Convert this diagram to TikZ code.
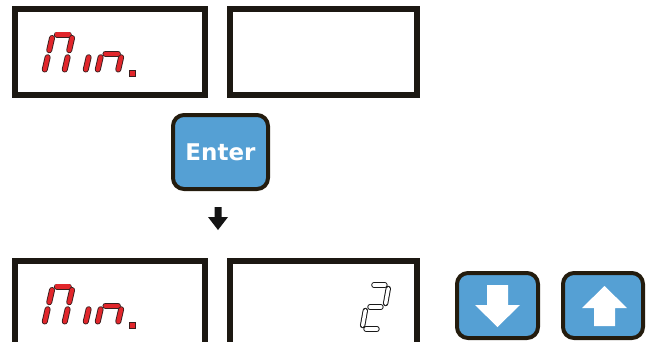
\documentclass[tikz,border=0pt]{standalone}
\usepackage{fontspec}
\newfontfamily\keyfont{DejaVu Sans}
\definecolor{boxc}{HTML}{1C1812}
\definecolor{btnfill}{HTML}{55A0D4}
\definecolor{btnborder}{HTML}{241C0E}
\definecolor{segred}{HTML}{E1262B}
\definecolor{segdark}{HTML}{3A1E1E}
\tikzset{
  disp/.style={rectangle, draw=boxc, line width=6pt, inner sep=0pt, minimum height=85.5pt},
  keybtn/.style={rectangle, draw=btnborder, line width=4pt, fill=btnfill, rounded corners=11pt, inner sep=0pt},
  redseg/.style={draw=segdark, line width=0.9pt, double=segred, double distance=4.2pt, line cap=round},
  whiteseg/.style={draw=black!90, line width=1pt, double=white, double distance=3.4pt, line cap=round},
  keyarrow/.style={fill=white, draw=none},
  flowarrow/.style={fill=black!92, draw=none}
}
% seven-segment helpers (use \dW, \dH, \gh, \gv set in the scope)
\newcommand\segA[1]{\draw[#1] (\gh,-\dH) -- (\dW-\gh,-\dH);}
\newcommand\segB[1]{\draw[#1] (\dW,-\dH+\gv) -- (\dW,-\dH/2-\gv);}
\newcommand\segC[1]{\draw[#1] (\dW,-\dH/2+\gv) -- (\dW,-\gv);}
\newcommand\segD[1]{\draw[#1] (\gh,0) -- (\dW-\gh,0);}
\newcommand\segE[1]{\draw[#1] (0,-\dH/2+\gv) -- (0,-\gv);}
\newcommand\segF[1]{\draw[#1] (0,-\dH+\gv) -- (0,-\dH/2-\gv);}
\newcommand\segG[1]{\draw[#1] (\gh,-\dH/2) -- (\dW-\gh,-\dH/2);}
\newcommand\minword[1]{% #1 = baseline y
  \begin{scope}[shift={(44,#1)}, xslant=0.23]
    \def\dW{20}\def\dH{38.5}\def\gh{4}\def\gv{3.5}
    \segA{redseg}\segB{redseg}\segC{redseg}\segE{redseg}\segF{redseg}
  \end{scope}
  \begin{scope}[shift={(85,#1)}, xslant=0.23]
    \def\dW{20}\def\dH{38.5}\def\gh{4}\def\gv{3.5}
    \segE{redseg}
  \end{scope}
  \begin{scope}[shift={(97,#1)}, xslant=0.23]
    \def\dW{20.5}\def\dH{38.5}\def\gh{4}\def\gv{3.5}
    \segC{redseg}\segE{redseg}\segG{redseg}
  \end{scope}
  \draw[draw=segdark, line width=0.9pt, fill=segred] (129,#1-3) rectangle (135,#1+3);
}
\begin{document}
\begin{tikzpicture}[x=1pt, y=-1pt]
\useasboundingbox (0,0) rectangle (654,341);
% displays
\node[disp, minimum width=190pt] (d1) at (110,51.75) {};
\node[disp, minimum width=187.5pt] (d2) at (323.25,51.75) {};
\node[disp, minimum width=190pt] (d3) at (110,303.75) {};
\node[disp, minimum width=187.5pt] (d4) at (323.25,303.75) {};
\minword{73}
\minword{325}
% digit 2
\begin{scope}[shift={(362,329)}, xslant=0.18]
  \def\dW{19}\def\dH{44}\def\gh{4}\def\gv{3.5}
  \segA{whiteseg}\segB{whiteseg}\segG{whiteseg}\segE{whiteseg}\segD{whiteseg}
\end{scope}
% keys
\node[keybtn, minimum width=95pt, minimum height=74pt, text=white,
      font=\keyfont\bfseries\fontsize{23}{23}\selectfont] (enter) at (220.5,152) {Enter};
\node[keybtn, minimum width=81pt, minimum height=65pt] (dn) at (497.5,305.5) {};
\node[keybtn, minimum width=80pt, minimum height=65pt] (up) at (603,305.5) {};
\begin{scope}[shift={(dn.center)}]
  \fill[keyarrow] (-10.5,-20.5) -- (10.5,-20.5) -- (10.5,-0.5) -- (22.5,-0.5)
    -- (0,21.5) -- (-22.5,-0.5) -- (-10.5,-0.5) -- cycle;
\end{scope}
\begin{scope}[shift={(up.center)}]
  \fill[keyarrow] (1.5,-19.5) -- (24,2.5) -- (12,2.5) -- (12,20.5)
    -- (-9,20.5) -- (-9,2.5) -- (-21,2.5) -- cycle;
\end{scope}
% small flow arrow under Enter
\fill[flowarrow] (214.5,207) -- (221.5,207) -- (221.5,217) -- (228,217)
  -- (218,230) -- (208,217) -- (214.5,217) -- cycle;
\end{tikzpicture}
\end{document}
